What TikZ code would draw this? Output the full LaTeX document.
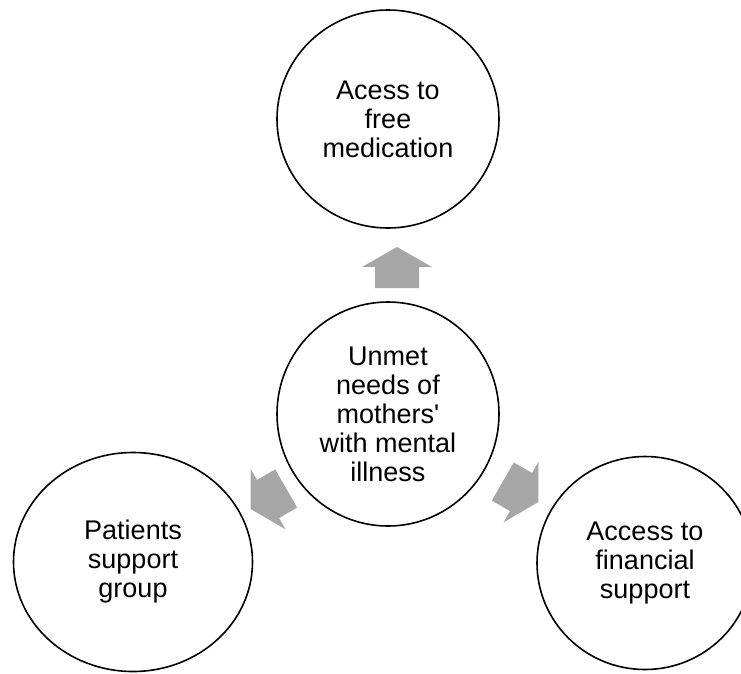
\documentclass[tikz,border=0pt]{standalone}
\usepackage{fontspec}
\setmainfont{Liberation Sans}[Ligatures=TeXOff]
\usetikzlibrary{shapes.geometric}

\definecolor{arrowgray}{rgb}{0.65, 0.65, 0.65}

\tikzset{
	ring/.style={draw=black, line width=1.6pt, ellipse, fill=white, inner sep=0pt, align=center,
		font=\fontsize{27}{29}\selectfont},
	blockarrow/.pic={
		\fill[arrowgray] (-21,-22) -- (0,-22) -- (0,-35) -- (20,0) -- (0,35) -- (0,22) -- (-21,22) -- cycle;
	}
}

\begin{document}
\begin{tikzpicture}[x=1pt,y=1pt,yscale=-1,xscale=1]
		% Set diagram to 741 by 673
		\clip (0,0) rectangle (741,673);
		\fill[white] (0,0) rectangle (741,673);

		% The four circles
		\node[ring, minimum width=222pt, minimum height=218pt] (medication) at (388,119) {Acess to\\free\\medication};
		\node[ring, minimum width=222pt, minimum height=224pt] (needs) at (388,414) {Unmet\\needs of\\mothers'\\with mental\\illness};
		\node[ring, minimum width=239pt, minimum height=219pt] (group) at (133,562) {Patients\\support\\group};
		\node[ring, minimum width=216pt, minimum height=213pt] (financial) at (645,563) {Access to\\financial\\support};

		% The grey block arrows between them (angles flipped by yscale=-1)
		\pic[rotate=90] at (397,267) {blockarrow};
		\pic[rotate=-150] at (268,499) {blockarrow};
		\pic[rotate=-30] at (521,492) {blockarrow};
	\end{tikzpicture}
\end{document}
